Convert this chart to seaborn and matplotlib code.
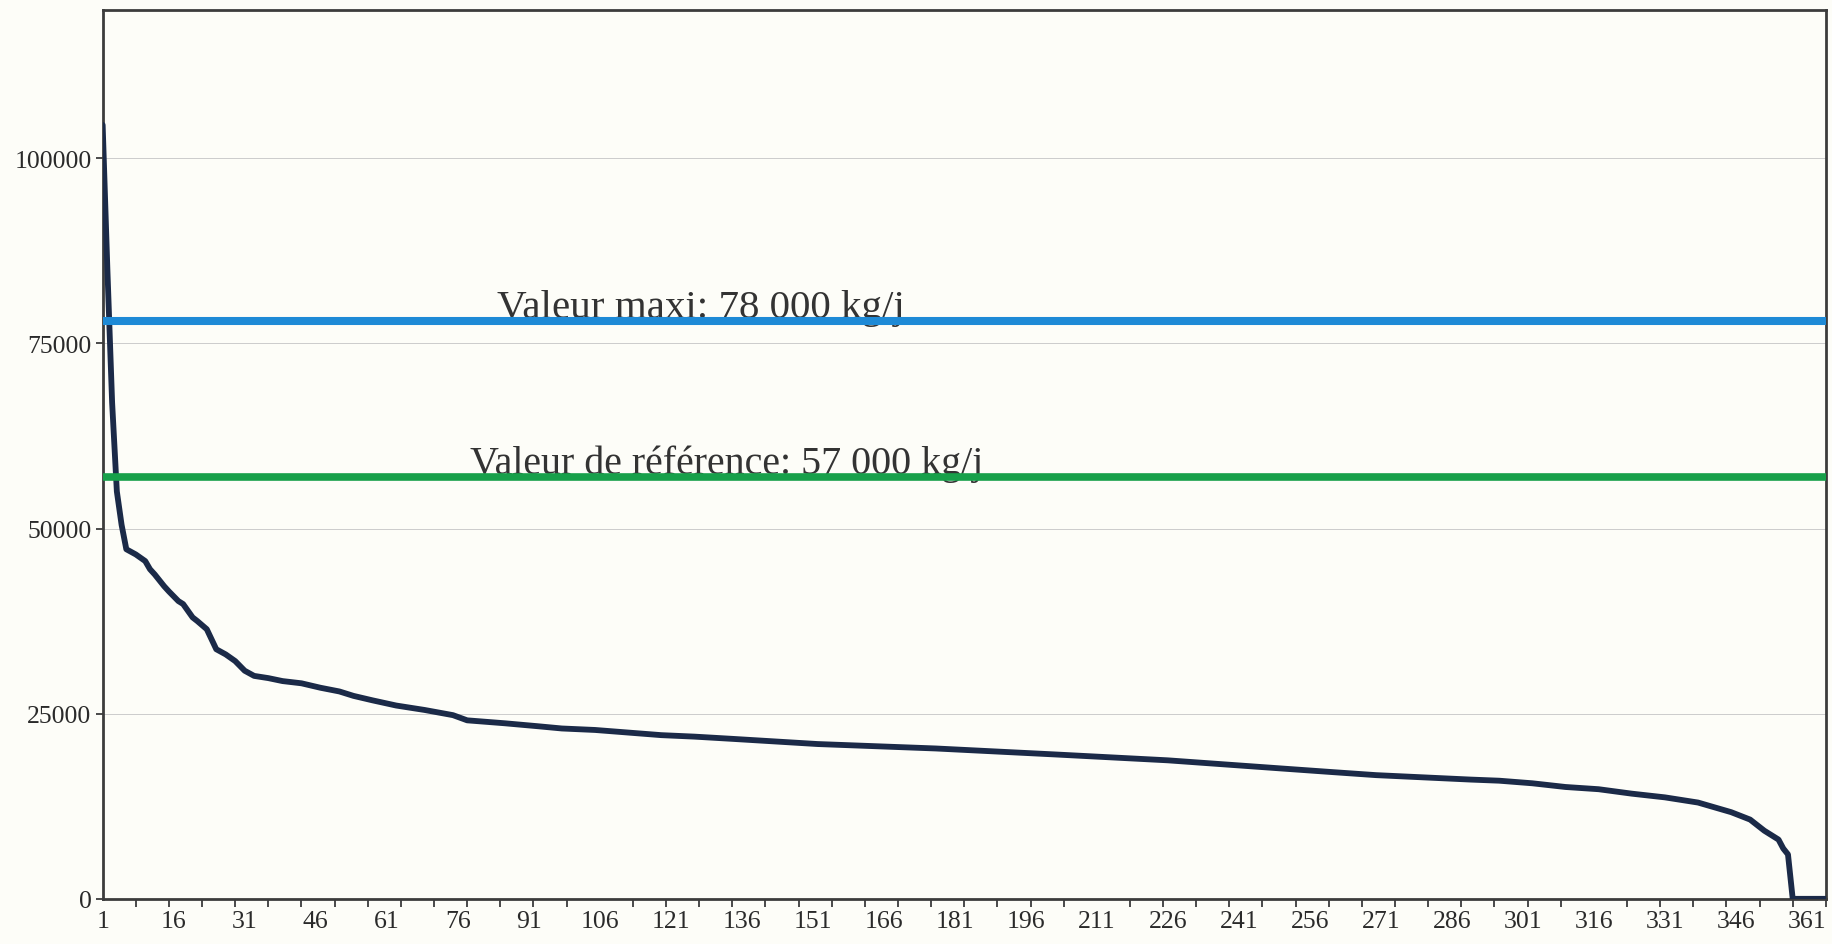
import matplotlib
matplotlib.use('Agg')
import matplotlib.pyplot as plt
import pandas as pd
import seaborn as sns

# courbe des charges classées (kg/j) : jour de rang -> charge
jours = [1, 2, 3, 4, 5, 6, 8, 10, 11, 12, 14, 15, 17, 18, 20, 21, 23, 25, 27, 29,
         31, 33, 36, 39, 43, 47, 51, 54, 58, 63, 69, 75, 78, 86, 93, 98, 105, 112,
         119, 126, 134, 152, 177, 202, 226, 250, 261, 270, 280, 290, 296, 303, 310,
         317, 324, 331, 338, 345, 349, 352, 354, 355, 356, 357, 358, 365]
charge = [104500, 85000, 67000, 55000, 50500, 47200, 46500, 45600, 44500, 43800,
          42200, 41500, 40200, 39800, 38000, 37500, 36400, 33700, 33000, 32100,
          30800, 30100, 29800, 29400, 29100, 28500, 28000, 27400, 26800, 26100,
          25500, 24800, 24100, 23700, 23300, 23000, 22800, 22450, 22100, 21900,
          21600, 20900, 20300, 19500, 18700, 17600, 17100, 16700, 16400, 16100,
          15950, 15600, 15100, 14800, 14200, 13700, 13000, 11700, 10700, 9200,
          8400, 8000, 6800, 6000, 0, 0]

valeur_maxi = 78000
valeur_ref = 57000
texte_maxi = 'Valeur maxi: 78 000 kg/j'
texte_ref = 'Valeur de référence: 57 000 kg/j'

yticks = [0, 25000, 50000, 75000, 100000]
xticks = list(range(1, 366, 15))

df = pd.DataFrame({'jour': jours, 'charge': charge})

sns.set_theme(style='white')
plt.rcParams['font.family'] = ['Liberation Serif', 'DejaVu Serif']

fond = '#fdfdf8'
fig = plt.figure(figsize=(18.33, 9.45), dpi=100, facecolor=fond)
ax = fig.add_axes([0.056, 0.0478, 0.9401, 0.9405], facecolor=fond)

sns.lineplot(data=df, x='jour', y='charge', ax=ax, color='#1b2a48', lw=4.2, zorder=3)
ax.axhline(valeur_maxi, color='#1e8ad6', lw=5.8, zorder=4)
ax.axhline(valeur_ref, color='#17a04a', lw=5.5, zorder=4)
ax.text(84.3, valeur_maxi + 500, texte_maxi, fontsize=29.5, color='#333333', zorder=2)
ax.text(78.6, valeur_ref + 500, texte_ref, fontsize=28.8, color='#333333', zorder=2)

ax.set_xlim(1, 365)
ax.set_ylim(0, 120000)
ax.set_yticks(yticks)
ax.set_yticklabels([str(v) for v in yticks])
ax.set_xticks(xticks)
ax.set_xticklabels([str(v) for v in xticks])
ax.set_xticks(list(range(1, 366, 7)), minor=True)
ax.tick_params(axis='x', which='major', length=0, pad=8, labelsize=18.5, colors='#2a2a2a')
ax.tick_params(axis='x', which='minor', bottom=True, length=6, width=1.3, color='#3c3c3c')
ax.tick_params(axis='y', which='major', left=True, length=5, width=1.3, color='#3c3c3c',
               pad=3, labelsize=18.5, labelcolor='#2a2a2a')
ax.set_xlabel('')
ax.set_ylabel('')

ax.yaxis.grid(True, color='#cccccc', lw=0.7)
ax.xaxis.grid(False)
for s in ax.spines.values():
    s.set_color('#3c3c3c')
    s.set_linewidth(2)

fig.savefig('out.png', dpi=100, facecolor=fond)
